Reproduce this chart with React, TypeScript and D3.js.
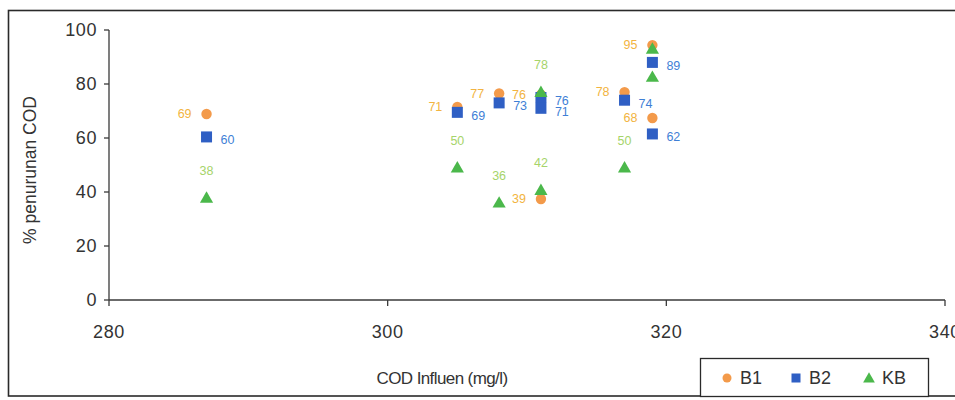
import { useEffect, useRef } from 'react';
import * as d3 from 'd3';

// COD influent (mg/l) for each sample
const codInfluen = [287, 305, 308, 311, 311, 317, 319, 319];

// % penurunan COD per series
const b1Values = [68.9, 71.5, 76.5, 76, 37.4, 77, 94.4, 67.4];
const b2Values = [60.4, 69.5, 73, 75, 71, 74, 88, 61.5];
const kbValues = [37.8, 49, 36, 77, 40.7, 49, 93, 82.6];

const b1Labels = ['69', '71', '77', '76', '39', '78', '95', '68'];
const b2Labels = ['60', '69', '73', '76', '71', '74', '89', '62'];
const kbLabels = ['38', '50', '36', '78', '42', '50', '', ''];

const xTicks = [280, 300, 320, 340];
const yTicks = [0, 20, 40, 60, 80, 100];

const W = 955;
const H = 400;

export default function App() {
    const svgRef = useRef<SVGSVGElement>(null);

    useEffect(() => {
        if (!svgRef.current) return;
        const svg = d3.select(svgRef.current);
        svg.selectAll('*').remove();

        const font = '"Liberation Sans", Arial, sans-serif';
        const axisColor = '#3a3a3a';

        const x = d3.scaleLinear().domain([280, 340]).range([109, 945]);
        const y = d3.scaleLinear().domain([0, 100]).range([300, 30]);

        // outer frame
        svg.append('rect')
            .attr('x', 8.5).attr('y', 10.5)
            .attr('width', 960).attr('height', 385.5)
            .attr('fill', 'white')
            .attr('stroke', '#2a2a2a')
            .attr('stroke-width', 1.6);

        // y axis
        const gy = svg.append('g').attr('transform', 'translate(109,0)');
        gy.append('line').attr('x1', 0).attr('x2', 0).attr('y1', y(100)).attr('y2', y(0))
            .attr('stroke', axisColor).attr('stroke-width', 1.3);
        yTicks.forEach(t => {
            gy.append('line').attr('x1', -5).attr('x2', 0).attr('y1', y(t)).attr('y2', y(t))
                .attr('stroke', axisColor).attr('stroke-width', 1.3);
            gy.append('text').attr('x', -12).attr('y', y(t)).attr('dy', '0.36em')
                .attr('text-anchor', 'end').attr('font-family', font).attr('font-size', 18)
                .attr('letter-spacing', '0.6').attr('fill', '#333').text(t);
        });

        // x axis
        const gx = svg.append('g').attr('transform', `translate(0,${y(0)})`);
        gx.append('line').attr('x1', x(280)).attr('x2', x(340)).attr('y1', 0).attr('y2', 0)
            .attr('stroke', axisColor).attr('stroke-width', 1.3);
        xTicks.forEach(t => {
            gx.append('line').attr('x1', x(t)).attr('x2', x(t)).attr('y1', 0).attr('y2', 6)
                .attr('stroke', axisColor).attr('stroke-width', 1.3);
            gx.append('text').attr('x', x(t)).attr('y', 38)
                .attr('text-anchor', 'middle').attr('font-family', font).attr('font-size', 18)
                .attr('letter-spacing', '0.6').attr('fill', '#333').text(t);
        });

        // axis titles
        svg.append('text').attr('x', 442).attr('y', 384)
            .attr('text-anchor', 'middle').attr('font-family', font).attr('font-size', 17)
            .attr('letter-spacing', '-0.6').attr('fill', '#333').text('COD Influen (mg/l)');
        svg.append('text')
            .attr('transform', 'translate(36,170) rotate(-90)')
            .attr('text-anchor', 'middle').attr('font-family', font).attr('font-size', 17.5)
            .attr('fill', '#333').text('% penurunan COD');

        const tri = d3.symbol().type(d3.symbolTriangle).size(75);

        // B1 circles
        svg.append('g').selectAll('circle').data(b1Values).enter().append('circle')
            .attr('cx', (_d, i) => x(codInfluen[i]))
            .attr('cy', d => y(d))
            .attr('r', 5.2)
            .attr('fill', '#f39a4a');

        // B2 squares
        svg.append('g').selectAll('rect').data(b2Values).enter().append('rect')
            .attr('x', (_d, i) => x(codInfluen[i]) - 5.5)
            .attr('y', d => y(d) - 5.5)
            .attr('width', 11).attr('height', 11)
            .attr('fill', '#2f5fc4');

        // KB triangles
        svg.append('g').selectAll('path').data(kbValues).enter().append('path')
            .attr('d', tri)
            .attr('transform', (d, i) => `translate(${x(codInfluen[i])},${y(d) + 1})`)
            .attr('fill', '#4bb84b');

        // data labels
        const labelFont = 12.5;
        svg.append('g').selectAll('text').data(b1Values).enter().append('text')
            .attr('x', (_d, i) => x(codInfluen[i]) - 15)
            .attr('y', d => y(d)).attr('dy', '0.35em')
            .attr('text-anchor', 'end').attr('font-family', font).attr('font-size', labelFont)
            .attr('fill', '#f2b441')
            .text((_d, i) => b1Labels[i]);

        svg.append('g').selectAll('text').data(b2Values).enter().append('text')
            .attr('x', (_d, i) => x(codInfluen[i]) + 14)
            .attr('y', d => y(d) + 3).attr('dy', '0.35em')
            .attr('text-anchor', 'start').attr('font-family', font).attr('font-size', labelFont)
            .attr('fill', '#3f7fd6')
            .text((_d, i) => b2Labels[i]);

        svg.append('g').selectAll('text').data(kbValues).enter().append('text')
            .attr('x', (_d, i) => x(codInfluen[i]))
            .attr('y', d => y(d) - 27).attr('dy', '0.35em')
            .attr('text-anchor', 'middle').attr('font-family', font).attr('font-size', labelFont)
            .attr('fill', '#a6d46a')
            .text((_d, i) => kbLabels[i]);

        // legend
        const lg = svg.append('g').attr('transform', 'translate(700,358)');
        lg.append('rect').attr('x', 0.5).attr('y', 0.5).attr('width', 228).attr('height', 38)
            .attr('fill', 'white').attr('stroke', '#2a2a2a').attr('stroke-width', 1.3);
        const items = [
            { name: 'B1', color: '#f39a4a', kind: 'circle', x: 27 },
            { name: 'B2', color: '#2f5fc4', kind: 'square', x: 96 },
            { name: 'KB', color: '#4bb84b', kind: 'triangle', x: 169 },
        ];
        items.forEach(it => {
            if (it.kind === 'circle') {
                lg.append('circle').attr('cx', it.x).attr('cy', 20).attr('r', 4.5).attr('fill', it.color);
            } else if (it.kind === 'square') {
                lg.append('rect').attr('x', it.x - 4.5).attr('y', 15.5).attr('width', 9).attr('height', 9).attr('fill', it.color);
            } else {
                lg.append('path').attr('d', d3.symbol().type(d3.symbolTriangle).size(60)).attr('transform', `translate(${it.x},21)`).attr('fill', it.color);
            }
            lg.append('text').attr('x', it.x + 13).attr('y', 20).attr('dy', '0.36em')
                .attr('font-family', font).attr('font-size', 18).attr('fill', '#333').text(it.name);
        });
    }, []);

    return (
        <svg ref={svgRef} width={W} height={H}
            style={{ position: 'absolute', left: 0, top: 0, background: 'white' }} />
    );
}
